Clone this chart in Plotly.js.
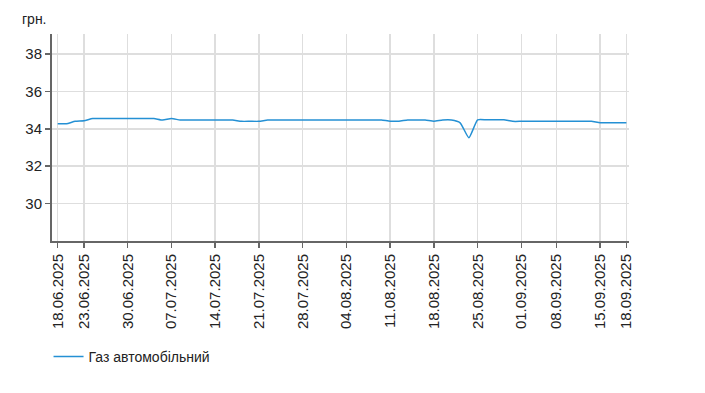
<!DOCTYPE html>
<html>
<head>
<meta charset="utf-8">
<script src="https://cdn.plot.ly/plotly-3.0.1.min.js"></script>
<style>
  html, body { margin: 0; padding: 0; background: #fff; }
  #chart { width: 705px; height: 393px; }
</style>
</head>
<body>
<div id="chart"></div>
<script>
// Working days shown on the category axis
const dates = [
  '18.06.2025','19.06.2025','20.06.2025','23.06.2025','24.06.2025','25.06.2025','26.06.2025','27.06.2025',
  '30.06.2025','01.07.2025','02.07.2025','03.07.2025','04.07.2025','07.07.2025','08.07.2025','09.07.2025',
  '10.07.2025','11.07.2025','14.07.2025','15.07.2025','16.07.2025','17.07.2025','18.07.2025','21.07.2025',
  '22.07.2025','23.07.2025','24.07.2025','25.07.2025','28.07.2025','29.07.2025','30.07.2025','31.07.2025',
  '01.08.2025','04.08.2025','05.08.2025','06.08.2025','07.08.2025','08.08.2025','11.08.2025','12.08.2025',
  '13.08.2025','14.08.2025','15.08.2025','18.08.2025','19.08.2025','20.08.2025','21.08.2025','22.08.2025',
  '25.08.2025','26.08.2025','27.08.2025','28.08.2025','29.08.2025','01.09.2025','02.09.2025','03.09.2025',
  '04.09.2025','08.09.2025','09.09.2025','10.09.2025','11.09.2025','12.09.2025','15.09.2025','16.09.2025',
  '17.09.2025','18.09.2025'
];

// Price of autogas, UAH
const gasPrice = [
  34.27, 34.27, 34.40, 34.43, 34.55, 34.55, 34.55, 34.55,
  34.55, 34.55, 34.55, 34.55, 34.47, 34.55, 34.47, 34.47,
  34.47, 34.47, 34.47, 34.47, 34.47, 34.40, 34.40, 34.40,
  34.47, 34.47, 34.47, 34.47, 34.47, 34.47, 34.47, 34.47,
  34.47, 34.47, 34.47, 34.47, 34.47, 34.47, 34.41, 34.41,
  34.47, 34.47, 34.47, 34.41, 34.47, 34.47, 34.32, 33.52,
  34.48, 34.48, 34.48, 34.48, 34.40, 34.40, 34.40, 34.40,
  34.40, 34.40, 34.40, 34.40, 34.40, 34.40, 34.32, 34.32,
  34.32, 34.32
];

const tickLabels = [
  '18.06.2025','23.06.2025','30.06.2025','07.07.2025','14.07.2025','21.07.2025','28.07.2025',
  '04.08.2025','11.08.2025','18.08.2025','25.08.2025','01.09.2025','08.09.2025','15.09.2025','18.09.2025'
];

const yTicks = [30, 32, 34, 36, 38];

const seriesName = 'Газ автомобільний';
const unitLabel = 'грн.';

const font = 'Liberation Sans, Arial, sans-serif';

const trace = {
  x: dates,
  y: gasPrice,
  type: 'scatter',
  mode: 'lines',
  name: seriesName,
  line: { color: '#2490d4', width: 1.5, shape: 'spline', smoothing: 0.5 },
  hoverinfo: 'x+y'
};

const layout = {
  width: 705,
  height: 393,
  margin: { l: 52, r: 76, t: 34, b: 152, pad: 0 },
  paper_bgcolor: '#ffffff',
  plot_bgcolor: '#ffffff',
  font: { family: font, size: 14, color: '#222' },
  showlegend: true,
  legend: {
    orientation: 'h',
    x: -0.006, xanchor: 'left',
    y: -0.56, yanchor: 'middle',
    font: { family: font, size: 14, color: '#222' },
    bgcolor: 'rgba(0,0,0,0)'
  },
  xaxis: {
    type: 'category',
    range: [-0.65, 65.3],
    tickmode: 'array',
    tickvals: tickLabels,
    ticktext: tickLabels,
    tickangle: -90,
    tickfont: { family: font, size: 15, color: '#222' },
    ticks: 'outside',
    ticklen: 5,
    tickwidth: 1.5,
    tickcolor: '#666',
    showline: true,
    linecolor: '#666',
    linewidth: 2,
    showgrid: true,
    gridcolor: '#dedede',
    gridwidth: 1.5,
    zeroline: false,
    fixedrange: true
  },
  yaxis: {
    range: [28, 39.07],
    tickmode: 'array',
    tickvals: yTicks,
    ticktext: yTicks.map(String),
    tickfont: { family: font, size: 15, color: '#222' },
    ticks: 'outside',
    ticklen: 5,
    tickwidth: 1.5,
    tickcolor: '#666',
    showline: true,
    linecolor: '#666',
    linewidth: 2,
    showgrid: true,
    gridcolor: '#dedede',
    gridwidth: 1.5,
    zeroline: false,
    fixedrange: true
  },
  annotations: [{
    text: unitLabel,
    xref: 'paper', yref: 'paper',
    x: 0, y: 1,
    xanchor: 'right', yanchor: 'bottom',
    xshift: -3, yshift: 5,
    showarrow: false,
    font: { family: font, size: 14, color: '#222' }
  }]
};

Plotly.newPlot('chart', [trace], layout, { displayModeBar: false, staticPlot: true });
</script>
</body>
</html>
